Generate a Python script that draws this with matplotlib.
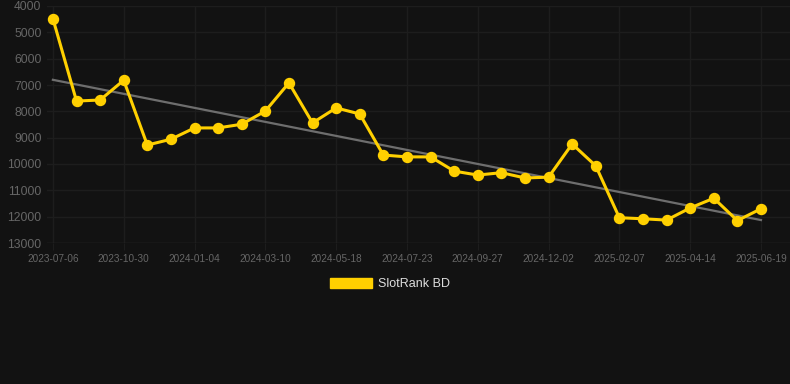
import numpy as np
import matplotlib
matplotlib.use('Agg')
from matplotlib import pyplot as plt
from matplotlib.patches import Patch

plt.rcParams['font.family'] = ['Liberation Sans', 'DejaVu Sans']

# values (rank, lower is better -> inverted axis)
ranks = [4480, 7610, 7570, 6820, 9280, 9060, 8630, 8630, 8490, 7990,
         6920, 8440, 7870, 8100, 9660, 9730, 9730, 10270, 10420, 10330,
         10530, 10500, 9240, 10070, 12040, 12080, 12130, 11670, 11300, 12150,
         11700]
tick_labels = ['2023-07-06', '2023-10-30', '2024-01-04', '2024-03-10', '2024-05-18',
               '2024-07-23', '2024-09-27', '2024-12-02', '2025-02-07', '2025-04-14',
               '2025-06-19']
series_name = 'SlotRank BD'

bg = '#121212'
x = np.arange(len(ranks))

fig = plt.figure(figsize=(7.9, 3.84), dpi=100, facecolor=bg)
ax = fig.add_axes([47/790, 1-243/384, 743/790, 237/384], facecolor=bg)

# trend line (least squares)
k, b = np.polyfit(x, ranks, 1)
ax.plot(x, k*x+b, color='#6e6e6e', lw=1.6, zorder=2)

ax.plot(x, ranks, color='#ffd000', lw=2.2, marker='o', ms=7.2, zorder=3)

ax.set_ylim(13000, 4000)
ax.set_yticks(range(4000, 13001, 1000))
ax.set_xlim(-0.25, 31.23)
ax.set_xticks(x[::3])
ax.set_xticklabels(tick_labels)

ax.grid(True, color='#1d1d1d', lw=1)
ax.set_axisbelow(True)
for s in ax.spines.values():
    s.set_visible(False)
ax.axhline(13000, color='#282828', lw=1, zorder=1)
ax.tick_params(axis='y', length=0, pad=4, labelsize=8.7, labelcolor='#666666')
ax.tick_params(axis='x', length=5, color='#1d1d1d', pad=3, labelsize=7.2, labelcolor='#666666')

fig.legend(handles=[Patch(color='#ffd000', label=series_name)], loc='center',
           bbox_to_anchor=(390/790, 1-284/384), frameon=False, fontsize=9,
           labelcolor='#dddddd', handlelength=3.3, handleheight=0.8, handletextpad=0.5)

fig.savefig('out.png', dpi=100, facecolor=bg)
